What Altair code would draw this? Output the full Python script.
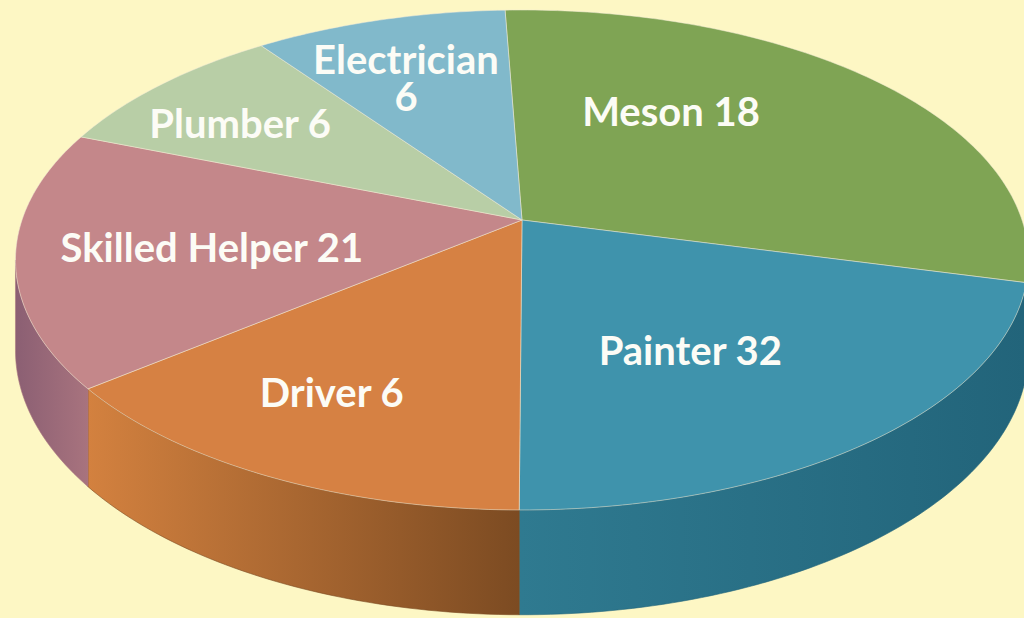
import math
import altair as alt
import pandas as pd

# ---------------- data ----------------
categories = ["Meson", "Painter", "Driver", "Skilled Helper", "Plumber", "Electrician"]
counts = [18, 32, 6, 21, 6, 6]
# angular share of each slice as drawn in the picture (percent)
slice_share = [29.6, 21.1, 14.2, 16.6, 9.1, 9.4]

# ---------------- styles / layout ----------------
top_colors = ["#7fa454", "#3f93ac", "#d68143", "#c4878a", "#b8cea6", "#81b9cb"]
side_colors = {
    "Meson": ["#63843c", "#54702f"],
    "Painter": ["#2f7a90", "#22647a"],
    "Driver": ["#d3813f", "#7c4b22"],
    "Skilled Helper": ["#8b5f73", "#a8737e"],
    "Plumber": ["#93a883", "#7e9270"],
    "Electrician": ["#6597a8", "#557f8e"],
}
label_frac = [0.344, 0.58, 0.54, 0.46, 0.404, 0.485]   # position inside slice (angular)
label_rad = [0.567, 0.59, 0.73, 0.62, 0.728, 0.769]    # position inside slice (radial)
two_line = {"Electrician"}

W, H = 1024, 618
CX, CY = 522, 220          # projected pie centre
A, B, P = 500.0, 243.6, -0.16  # perspective ellipse parameters
DEPTH = 88.0
START = -2.25              # degrees, clockwise from the far point

SIL = math.degrees(math.acos(P))      # right silhouette angle
SIL_L, SIL_R = 360 - SIL, SIL


def proj(phi, r=1.0, depth=0.0):
    t = math.radians(phi)
    u, v = r * math.sin(t), -r * math.cos(t)
    d = 1 + P * v
    return CX + A * u / d, CY + B * v / d + depth / d


total = sum(slice_share)
bounds = []
acc = START
for s in slice_share:
    a = acc
    acc += 360.0 * s / total
    bounds.append((a, acc))

top_rows, side_rows, label_rows = [], [], []
for k, name in enumerate(categories):
    a, b = bounds[k]
    n = max(2, int(math.ceil(b - a)))
    i = 0
    top_rows.append({"slice": name, "i": i, "x": CX, "y": CY}); i += 1
    for j in range(n + 1):
        x, y = proj(a + (b - a) * j / n)
        top_rows.append({"slice": name, "i": i, "x": x, "y": y}); i += 1
    top_rows.append({"slice": name, "i": i, "x": CX, "y": CY})

    lo, hi = max(a, SIL_R), min(b, SIL_L)
    if lo < hi:
        m = max(2, int(math.ceil(hi - lo)))
        i = 0
        pts = [proj(lo + (hi - lo) * j / m) for j in range(m + 1)]
        pts += [proj(hi - (hi - lo) * j / m, depth=DEPTH) for j in range(m + 1)]
        pts.append(pts[0])
        for x, y in pts:
            side_rows.append({"slice": name, "i": i, "x": x, "y": y}); i += 1

    phi = a + (b - a) * label_frac[k]
    lx, ly = proj(phi, label_rad[k])
    sep = "\n" if name in two_line else " "
    label_rows.append({"slice": name, "x": lx, "y": ly, "label": f"{name}{sep}{counts[k]}"})

top_df = pd.DataFrame(top_rows)
side_df = pd.DataFrame(side_rows)
label_df = pd.DataFrame(label_rows)

xs = alt.X("x:Q", scale=alt.Scale(domain=[0, W], nice=False, zero=False), axis=None)
ys = alt.Y("y:Q", scale=alt.Scale(domain=[0, H], nice=False, zero=False, reverse=True), axis=None)

layers = []
for name in side_df["slice"].unique():
    c0, c1 = side_colors[name]
    grad = alt.Gradient(
        gradient="linear",
        stops=[alt.GradientStop(offset=0, color=c0), alt.GradientStop(offset=1, color=c1)],
        x1=0, x2=1, y1=0, y2=0,
    )
    layers.append(
        alt.Chart(side_df[side_df["slice"] == name])
        .mark_line(fill=grad, stroke=c1, strokeWidth=0.6, clip=True)
        .encode(x=xs, y=ys, order=alt.Order("i:Q"))
    )

top = (
    alt.Chart(top_df)
    .mark_line(stroke="#f4ecd8", strokeOpacity=0.5, strokeWidth=1, clip=True)
    .encode(
        x=xs, y=ys,
        fill=alt.Fill("slice:N", scale=alt.Scale(domain=categories, range=top_colors), legend=None),
        detail="slice:N",
        order=alt.Order("i:Q"),
    )
)
layers.append(top)

labels = (
    alt.Chart(label_df)
    .mark_text(font="Lato", fontWeight="bold", fontSize=40, color="#fcfcf6",
               align="center", baseline="middle", lineBreak="\n", lineHeight=37, clip=True)
    .encode(x=xs, y=ys, text="label:N")
)
layers.append(labels)

chart = (
    alt.layer(*layers)
    .properties(width=W, height=H, padding=0, background="#fdf7c4",
                autosize=alt.AutoSizeParams(type="none"))
    .configure_view(strokeOpacity=0)
)

chart.save("out.html", embed_options={"renderer": "svg", "actions": False})
